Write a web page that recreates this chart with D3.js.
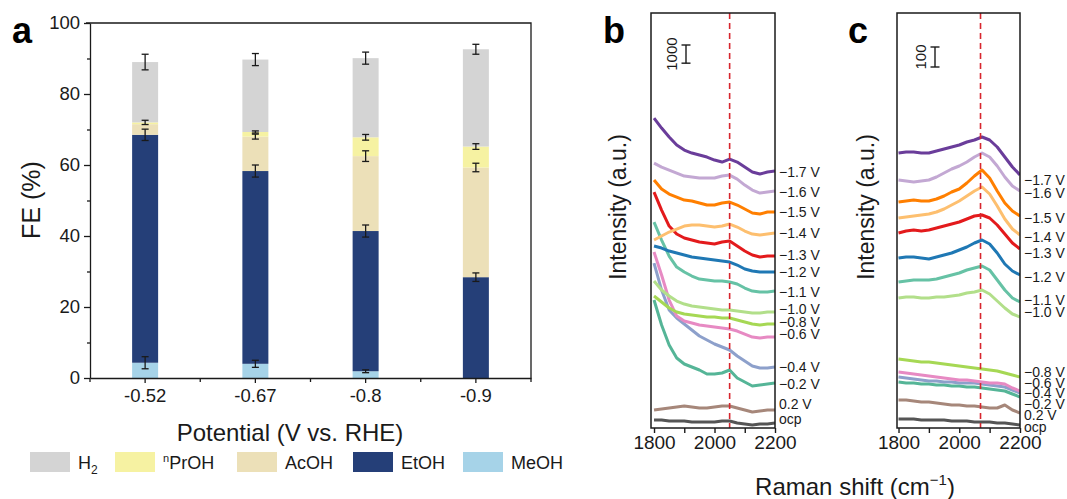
<!DOCTYPE html>
<html><head><meta charset="utf-8">
<script src="https://cdn.jsdelivr.net/npm/d3@7"></script>
<style>body{margin:0;background:#fff;} svg{display:block;font-family:Arial,"Liberation Sans",sans-serif;}</style>
</head><body><svg id="chart" width="1067" height="499"></svg>
<script>
// ===== Panel a data (Faradaic efficiency, %) =====
const potentials = ["-0.52", "-0.67", "-0.8", "-0.9"];
const feMeOH = [4.3, 4.0, 1.9, 0];
const feEtOH = [64.2, 54.3, 39.5, 28.4];
const feAcOH = [3.0, 9.7, 21.1, 30.9];
const fePrOH = [0.5, 1.3, 5.3, 5.9];
const feH2   = [17.0, 20.4, 22.3, 27.4];
const errMeOH = [1.7, 1.0, 0.4, 0];
const errEtOH = [1.6, 1.7, 1.7, 1.2];
const errAcOH = [0, 0.7, 1.5, 1.2];
const errPrOH = [0.6, 0.3, 0.8, 0.8];
const errH2   = [2.2, 1.7, 1.7, 1.4];
const feTicks = [0, 20, 40, 60, 80, 100];

// ===== Panel b data (Raman intensity, a.u.) =====
const shiftB = [1800,1825,1850,1875,1900,1925,1950,1975,2000,2025,2050,2075,2100,2125,2150,2175,2200];
const b_m17 = [17270,16720,16225,15785,15510,15345,15235,15125,14960,14850,15015,14850,14575,14300,14190,14300,14355];
const b_m16 = [14795,14575,14410,14245,14080,14025,13970,13970,13970,14080,14135,13915,13585,13310,13145,13200,13255];
const b_m15 = [13860,13365,13090,12925,12760,12705,12595,12485,12485,12595,12650,12485,12265,12045,11990,12100,12100];
const b_m14 = [10560,10780,11000,11165,11330,11385,11385,11330,11275,11330,11440,11275,11055,10890,10835,10890,10945];
const b_m13 = [13200,12210,11330,10890,10670,10560,10450,10395,10340,10450,10505,10230,9955,9735,9625,9680,9680];
const b_m12 = [10230,10120,9955,9845,9735,9625,9570,9515,9460,9405,9350,9185,8965,8855,8800,8800,8800];
const b_m11 = [11550,10560,9680,9075,8800,8580,8415,8360,8305,8305,8250,8140,7920,7755,7700,7700,7755];
const b_m10 = [8305,7810,7480,7205,7040,6930,6875,6820,6765,6710,6710,6655,6600,6545,6545,6600,6600];
const b_m08 = [7480,7150,6820,6600,6490,6435,6380,6325,6325,6270,6270,6160,6050,5940,5885,5940,5940];
const b_m06 = [9900,8635,7260,6380,6105,5995,5885,5830,5775,5720,5665,5555,5390,5225,5170,5225,5225];
const b_m04 = [9295,7810,6710,6270,5940,5610,5280,5060,4840,4675,4510,4180,3905,3630,3520,3520,3575];
const b_m02 = [7260,5885,4785,4070,3740,3575,3410,3190,3190,3245,3410,2970,2750,2530,2585,2640,2695];
const b_p02 = [1210,1265,1320,1375,1430,1375,1320,1320,1375,1430,1430,1320,1210,1100,1155,1210,1210];
const b_ocp = [660,660,605,605,605,550,550,550,550,605,605,495,440,385,440,440,495];

// ===== Panel c data (Raman intensity, a.u.) =====
const shiftC = [1800,1825,1850,1875,1900,1925,1950,1975,2000,2025,2050,2075,2100,2125,2150,2175,2200];
const c_m17 = [1395,1400,1400,1395,1395,1405,1415,1425,1435,1450,1460,1475,1460,1425,1375,1325,1285];
const c_m16 = [1260,1255,1250,1255,1260,1275,1295,1315,1330,1350,1375,1395,1375,1330,1275,1230,1205];
const c_m15 = [1150,1155,1160,1155,1155,1165,1180,1200,1215,1245,1280,1310,1270,1205,1145,1105,1080];
const c_m14 = [1070,1075,1080,1085,1090,1100,1115,1135,1155,1180,1205,1225,1190,1130,1065,1015,985];
const c_m13 = [995,1005,1010,1005,1010,1020,1030,1040,1050,1065,1080,1085,1070,1035,990,945,915];
const c_m12 = [870,875,875,870,865,875,885,895,910,925,945,960,940,895,840,805,785];
const c_m11 = [750,755,760,760,760,765,775,785,795,810,820,830,810,760,710,670,650];
const c_m10 = [670,675,675,670,670,675,675,680,685,695,700,710,690,655,620,590,575];
const c_m08 = [365,360,355,350,350,345,340,335,330,325,320,315,310,305,295,285,275];
const c_m06 = [300,295,290,285,280,275,270,265,260,260,255,250,245,245,240,220,205];
const c_m04 = [275,270,265,260,255,255,250,250,245,245,245,240,235,230,225,210,195];
const c_m02 = [250,245,245,240,240,235,235,230,230,225,225,220,215,210,205,190,175];
const c_p02 = [160,160,155,150,150,145,140,135,135,130,130,125,120,120,135,110,95];
const c_ocp = [65,65,65,60,60,60,60,55,55,55,50,50,50,45,45,40,35];

const potLabels = ["\u22121.7 V","\u22121.6 V","\u22121.5 V","\u22121.4 V","\u22121.3 V","\u22121.2 V","\u22121.1 V","\u22121.0 V","\u22120.8 V","\u22120.6 V","\u22120.4 V","\u22120.2 V","0.2 V","ocp"];
const xTicksRaman = [1800, 1900, 2000, 2100, 2200];
const dashB = 2050, dashC = 2070;
const scaleBarB = 1000, scaleBarC = 100;

// ===== styles / layout =====
const prodColors = {MeOH:"#a6d3e8", EtOH:"#253f78", AcOH:"#ece0b8", PrOH:"#f6f2a2", H2:"#d4d4d4"};
const specColors = ["#6a3d9a","#c3a8d3","#ff7f00","#fdbf6f","#e31a1c","#1f78b4","#66c2a5","#b2df8a","#a6d854","#e78ac3","#8da0cb","#55b597","#a6877a","#555555"];
const nudgeB = [1,1,0,0,-1,0,1,-3,-2,-3,0,1,-6,-4];
const nudgeC = [5,2,2,2,4,2,-2,-5,-5,-8,0,7,2,2];
const ink = "#1a1a1a";
const frameTop = 13, frameBottom = 428;

const svg = d3.select("#chart");

// ---------- Panel a ----------
const keys = ["MeOH","EtOH","AcOH","PrOH","H2"];
const vals = {MeOH:feMeOH, EtOH:feEtOH, AcOH:feAcOH, PrOH:fePrOH, H2:feH2};
const errs = {MeOH:errMeOH, EtOH:errEtOH, AcOH:errAcOH, PrOH:errPrOH, H2:errH2};
const rows = potentials.map((p,i)=>{const r={pot:p,i:i}; keys.forEach(k=>r[k]=vals[k][i]); return r;});
const stacked = d3.stack().keys(keys)(rows);

const ax = d3.scaleBand().domain(potentials).range([90,531]);
const ay = d3.scaleLinear().domain([0,100]).range([378,23]);
const barW = 26;
const ga = svg.append("g");

stacked.forEach(s=>{
  ga.append("g").selectAll("rect").data(s).join("rect")
    .attr("x", d=>ax(d.data.pot)+ax.bandwidth()/2-barW/2)
    .attr("y", d=>ay(d[1]))
    .attr("width", barW)
    .attr("height", d=>Math.max(0, ay(d[0])-ay(d[1])))
    .attr("fill", prodColors[s.key]);
});
stacked.forEach(s=>{
  s.forEach(d=>{
    const e = errs[s.key][d.data.i];
    if(!e || d[1]-d[0] <= 0) return;
    const cx = ax(d.data.pot)+ax.bandwidth()/2;
    const y1 = ay(d[1]+e), y2 = ay(d[1]-e);
    const g = ga.append("g").attr("stroke", ink).attr("stroke-width",1.3);
    g.append("line").attr("x1",cx).attr("x2",cx).attr("y1",y1).attr("y2",y2);
    g.append("line").attr("x1",cx-3.5).attr("x2",cx+3.5).attr("y1",y1).attr("y2",y1);
    g.append("line").attr("x1",cx-3.5).attr("x2",cx+3.5).attr("y1",y2).attr("y2",y2);
  });
});

// axes
const yAxis = ga.append("g").attr("transform","translate(90,0)")
  .call(d3.axisLeft(ay).tickValues(feTicks).tickSize(6).tickSizeOuter(0).tickPadding(4));
const yMinor = ga.append("g").attr("transform","translate(90,0)")
  .call(d3.axisLeft(ay).tickValues(feTicks.slice(0,-1).map((t,i)=>(t+feTicks[i+1])/2)).tickSize(3).tickFormat(""));
const xAxis = ga.append("g").attr("transform","translate(0,378)")
  .call(d3.axisBottom(ax).tickSize(5).tickSizeOuter(0).tickPadding(6));
const bounds = potentials.map(p=>ax(p)).concat([ax.range()[1]]);
ga.append("g").selectAll("line").data(bounds).join("line")
  .attr("x1",d=>d).attr("x2",d=>d).attr("y1",378).attr("y2",382).attr("stroke",ink).attr("stroke-width",1.3);
[yAxis,yMinor,xAxis].forEach(g=>{
  g.selectAll("path,line").attr("stroke",ink).attr("stroke-width",1.3);
  g.selectAll("text").attr("font-size","18.5px").attr("fill",ink).attr("font-family","Arial,'Liberation Sans',sans-serif");
});
yMinor.select("path").remove();
ga.append("path").attr("d",`M86,${ay(100)}H531V${ay(0)}`).attr("fill","none").attr("stroke",ink).attr("stroke-width",1.3);

ga.append("text").attr("transform","translate(40,200) rotate(-90)").attr("text-anchor","middle")
  .attr("font-size","25px").attr("fill",ink).text("FE (%)");
ga.append("text").attr("x",290).attr("y",441).attr("text-anchor","middle")
  .attr("font-size","24px").attr("fill",ink).text("Potential (V vs. RHE)");

// legend
const legendItems = [
  {k:"H2", x:30}, {k:"PrOH", x:115}, {k:"AcOH", x:237}, {k:"EtOH", x:353}, {k:"MeOH", x:463}
];
const lg = ga.append("g");
legendItems.forEach(it=>{
  lg.append("rect").attr("x",it.x).attr("y",452).attr("width",40).attr("height",20).attr("fill",prodColors[it.k]);
  const t = lg.append("text").attr("x",it.x+48).attr("y",469).attr("font-size","18px").attr("fill",ink);
  if(it.k==="H2"){ t.append("tspan").text("H"); t.append("tspan").attr("font-size","12px").attr("dy",5).text("2"); }
  else if(it.k==="PrOH"){ t.append("tspan").attr("font-size","11px").attr("dy",-7).text("n"); t.append("tspan").attr("dy",7).text("PrOH"); }
  else t.text(it.k);
});

// panel letters
[["a",12],["b",603],["c",848]].forEach(([l,x])=>{
  svg.append("text").attr("x",x).attr("y",43).attr("font-size","36px").attr("font-weight","bold").attr("fill","#000").text(l);
});

// ---------- Panels b & c ----------
function drawRaman(cfg){
  const g = svg.append("g");
  const x = d3.scaleLinear().domain(cfg.xDomain).range([cfg.left, cfg.right]);
  const y = d3.scaleLinear().domain([0, cfg.yMax]).range([432, 13]);
  const clipId = "clip"+cfg.id;
  svg.append("clipPath").attr("id",clipId).append("rect")
    .attr("x",cfg.left).attr("y",frameTop).attr("width",cfg.right-cfg.left).attr("height",frameBottom-frameTop);
  const line = d3.line().x((d,i)=>x(cfg.shift[i])).y(d=>y(d));
  const lines = g.append("g").attr("clip-path",`url(#${clipId})`);
  cfg.series.slice().reverse().forEach((s,ri)=>{
    const i = cfg.series.length-1-ri;
    lines.append("path").attr("d",line(s)).attr("fill","none")
      .attr("stroke",specColors[i]).attr("stroke-width",3).attr("stroke-linejoin","round");
  });
  g.append("line").attr("x1",x(cfg.dash)).attr("x2",x(cfg.dash)).attr("y1",frameTop).attr("y2",frameBottom)
    .attr("stroke","#d7262e").attr("stroke-width",1.6).attr("stroke-dasharray","6,4");
  g.append("rect").attr("x",cfg.left).attr("y",frameTop).attr("width",cfg.right-cfg.left).attr("height",frameBottom-frameTop)
    .attr("fill","none").attr("stroke",ink).attr("stroke-width",1.5);
  const xa = g.append("g").attr("transform",`translate(0,${frameBottom})`)
    .call(d3.axisBottom(x).tickValues(xTicksRaman).tickSize(5).tickSizeOuter(0).tickPadding(3)
      .tickFormat(d=> (d===1900||d===2100) ? "" : d));
  xa.select("path").remove();
  xa.selectAll("line").attr("stroke",ink).attr("stroke-width",1.4);
  xa.selectAll("text").attr("font-size","19px").attr("fill",ink).attr("font-family","Arial,'Liberation Sans',sans-serif");
  g.append("text").attr("transform",`translate(${cfg.ylabX},207) rotate(-90)`).attr("text-anchor","middle")
    .attr("dy","0.35em").attr("font-size","23px").attr("fill",ink).text("Intensity (a.u.)");
  const sbTop = cfg.sbTop, sbLen = y(0)-y(cfg.sb);
  const sb = g.append("g").attr("stroke",ink).attr("stroke-width",1.4);
  sb.append("line").attr("x1",cfg.sbX).attr("x2",cfg.sbX).attr("y1",sbTop).attr("y2",sbTop+sbLen);
  sb.append("line").attr("x1",cfg.sbX-4.5).attr("x2",cfg.sbX+4.5).attr("y1",sbTop).attr("y2",sbTop);
  sb.append("line").attr("x1",cfg.sbX-4.5).attr("x2",cfg.sbX+4.5).attr("y1",sbTop+sbLen).attr("y2",sbTop+sbLen);
  g.append("text").attr("transform",`translate(${cfg.sbX-14},${sbTop+sbLen/2}) rotate(-90)`)
    .attr("text-anchor","middle").attr("dy","0.35em").attr("font-size","15px").attr("fill",ink).text(cfg.sb);
  cfg.series.forEach((s,i)=>{
    g.append("text").attr("x",cfg.right+4).attr("y",y(s[s.length-1])+cfg.nudge[i]).attr("dy","0.35em")
      .attr("font-size","14px").attr("fill",ink).text(potLabels[i]);
  });
}

drawRaman({id:"b", xDomain:[1790,2200], left:651, right:775, yMax:23050, shift:shiftB,
  series:[b_m17,b_m16,b_m15,b_m14,b_m13,b_m12,b_m11,b_m10,b_m08,b_m06,b_m04,b_m02,b_p02,b_ocp],
  dash:dashB, nudge:nudgeB, ylabX:618, sb:scaleBarB, sbX:686, sbTop:45});
drawRaman({id:"c", xDomain:[1795,2200], left:897, right:1020, yMax:2095, shift:shiftC,
  series:[c_m17,c_m16,c_m15,c_m14,c_m13,c_m12,c_m11,c_m10,c_m08,c_m06,c_m04,c_m02,c_p02,c_ocp],
  dash:dashC, nudge:nudgeC, ylabX:866, sb:scaleBarC, sbX:935, sbTop:47});

const rt = svg.append("text").attr("x",855).attr("y",495).attr("text-anchor","middle").attr("font-size","24px").attr("fill",ink);
rt.append("tspan").text("Raman shift (cm");
rt.append("tspan").attr("font-size","15px").attr("dy",-10).text("\u22121");
rt.append("tspan").attr("dy",10).text(")");
</script>
</body></html>
